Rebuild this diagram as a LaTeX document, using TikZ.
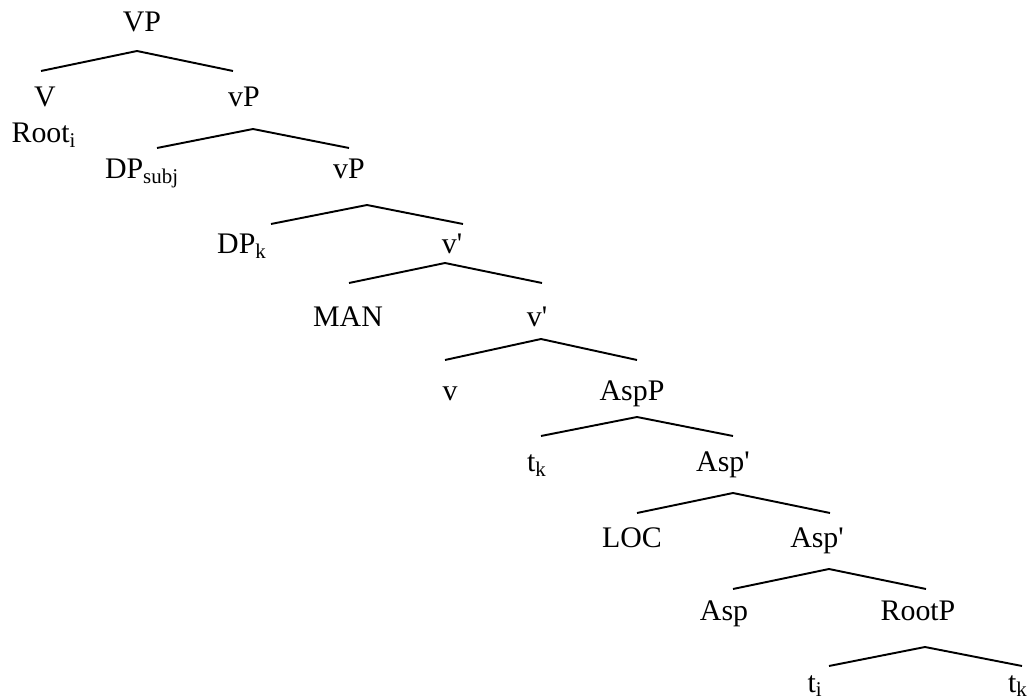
\documentclass[tikz,border=0pt]{standalone}
\usepackage{fontspec}
\setmainfont{Liberation Serif}
\newcommand{\prm}{\textquotesingle}
\tikzset{
  synlabel/.style={anchor=base, inner sep=0pt, font=\fontsize{17}{20}\selectfont},
  branch/.style={line width=1.1pt}
}

\begin{document}
\begin{tikzpicture}[x=0.02cm, y=-0.02cm]
                        \useasboundingbox (0,0) rectangle (1029,699);

                        % Marking node VP
                        \node [synlabel] (VP) at (142,32) {VP};%

                        % Marking nodes V and vP
                        \node [synlabel] (V) at (45,107) {V};%
                        \node [synlabel] (Root) at (44,143) {Root\textsubscript{i}};%
                        \node [synlabel] (vP) at (244,107) {vP};%

                        % Drawing branches VP V, VP vP
                        \coordinate (VP-fork) at (137,51);%
                        \coordinate (V-top) at (41,71);%
                        \coordinate (vP-top) at (233,71);%
                        \draw [branch] (V-top) -- (VP-fork) -- (vP-top);%

                        % Marking nodes DP_subj and vP
                        \node [synlabel] (DPsubj) at (142,179) {DP\textsubscript{subj}};%
                        \node [synlabel] (vPb) at (349,179) {vP};%

                        % Drawing branches vP DP_subj, vP vP
                        \coordinate (vP-fork) at (253,129);%
                        \coordinate (DPsubj-top) at (157,148);%
                        \coordinate (vPb-top) at (349,148);%
                        \draw [branch] (DPsubj-top) -- (vP-fork) -- (vPb-top);%

                        % Marking nodes DP_k and v'
                        \node [synlabel] (DPk) at (242,254) {DP\textsubscript{k}};%
                        \node [synlabel] (vbar) at (452,254) {v\prm};%

                        % Drawing branches vP DP_k, vP v'
                        \coordinate (vPb-fork) at (367,205);%
                        \coordinate (DPk-top) at (271,224);%
                        \coordinate (vbar-top) at (463,224);%
                        \draw [branch] (DPk-top) -- (vPb-fork) -- (vbar-top);%

                        % Marking nodes MAN and v'
                        \node [synlabel] (MAN) at (348,327) {MAN};%
                        \node [synlabel] (vbarb) at (537,327) {v\prm};%

                        % Drawing branches v' MAN, v' v'
                        \coordinate (vbar-fork) at (445,263);%
                        \coordinate (MAN-top) at (349,283);%
                        \coordinate (vbarb-top) at (542,283);%
                        \draw [branch] (MAN-top) -- (vbar-fork) -- (vbarb-top);%

                        % Marking nodes v and AspP
                        \node [synlabel] (v) at (450,401) {v};%
                        \node [synlabel] (AspP) at (632,401) {AspP};%

                        % Drawing branches v' v, v' AspP
                        \coordinate (vbarb-fork) at (541,339);%
                        \coordinate (v-top) at (445,360);%
                        \coordinate (AspP-top) at (637,360);%
                        \draw [branch] (v-top) -- (vbarb-fork) -- (AspP-top);%

                        % Marking nodes t_k and Asp'
                        \node [synlabel] (tk) at (537,472) {t\textsubscript{k}};%
                        \node [synlabel] (Aspbar) at (723,472) {Asp\prm};%

                        % Drawing branches AspP t_k, AspP Asp'
                        \coordinate (AspP-fork) at (637,417);%
                        \coordinate (tk-top) at (541,436);%
                        \coordinate (Aspbar-top) at (733,436);%
                        \draw [branch] (tk-top) -- (AspP-fork) -- (Aspbar-top);%

                        % Marking nodes LOC and Asp'
                        \node [synlabel] (LOC) at (632,547) {LOC};%
                        \node [synlabel] (Aspbarb) at (817,547) {Asp\prm};%

                        % Drawing branches Asp' LOC, Asp' Asp'
                        \coordinate (Aspbar-fork) at (733,493);%
                        \coordinate (LOC-top) at (637,513);%
                        \coordinate (Aspbarb-top) at (830,513);%
                        \draw [branch] (LOC-top) -- (Aspbar-fork) -- (Aspbarb-top);%

                        % Marking nodes Asp and RootP
                        \node [synlabel] (Asp) at (724,621) {Asp};%
                        \node [synlabel] (RootP) at (918,621) {RootP};%

                        % Drawing branches Asp' Asp, Asp' RootP
                        \coordinate (Aspbarb-fork) at (829,569);%
                        \coordinate (Asp-top) at (733,589);%
                        \coordinate (RootP-top) at (926,589);%
                        \draw [branch] (Asp-top) -- (Aspbarb-fork) -- (RootP-top);%

                        % Marking nodes t_i and t_k
                        \node [synlabel] (ti) at (815,692) {t\textsubscript{i}};%
                        \node [synlabel] (tkb) at (1018,692) {t\textsubscript{k}};%

                        % Drawing branches RootP t_i, RootP t_k
                        \coordinate (RootP-fork) at (925,647);%
                        \coordinate (ti-top) at (829,666);%
                        \coordinate (tkb-top) at (1022,666);%
                        \draw [branch] (ti-top) -- (RootP-fork) -- (tkb-top);%
                    \end{tikzpicture}
\end{document}
